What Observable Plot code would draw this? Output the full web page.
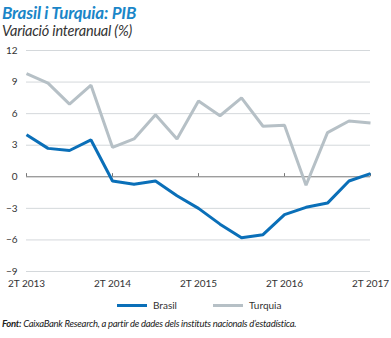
<!DOCTYPE html>
<html><head><meta charset="utf-8">
<script src="https://cdn.jsdelivr.net/npm/d3@7"></script>
<script src="https://cdn.jsdelivr.net/npm/@observablehq/plot@0.6"></script>
<style>
body{margin:0;background:#fff;width:391px;height:338px;overflow:hidden;font-family:Lato,"Open Sans",sans-serif;position:relative}
#title{position:absolute;left:2px;top:4px;font-size:17px;line-height:17px;font-weight:bold;font-style:italic;color:#1a86c8;white-space:nowrap;letter-spacing:-0.2px}
#sub{position:absolute;left:2px;top:23px;font-size:14.5px;line-height:15px;font-style:italic;color:#333;white-space:nowrap;letter-spacing:-0.2px}
#chart{position:absolute;left:0;top:40px}
#legend{position:absolute;left:0;top:299px;width:391px;height:14px;font-size:10px;color:#333}
.li{position:absolute;top:0;display:flex;align-items:center;height:12px}
.sw{width:30px;height:3px;margin-right:6px}
#src{position:absolute;left:2px;top:318px;font-size:9.5px;line-height:11px;font-style:italic;color:#222;white-space:nowrap;letter-spacing:-0.28px}
</style></head><body>
<div id="title">Brasil i Turquia: PIB</div>
<div id="sub">Variació interanual (%)</div>
<div id="chart"></div>
<div id="legend">
<div class="li" style="left:117px"><div class="sw" style="background:#0a6fb8"></div>Brasil</div>
<div class="li" style="left:213px"><div class="sw" style="background:#b6c0c6"></div>Turquia</div>
</div>
<div id="src"><b>Font:</b> CaixaBank Research, a partir de dades dels instituts nacionals d’estadística.</div>
<script>
const quarters = ["2T 2013","3T 2013","4T 2013","1T 2014","2T 2014","3T 2014","4T 2014","1T 2015","2T 2015","3T 2015","4T 2015","1T 2016","2T 2016","3T 2016","4T 2016","1T 2017","2T 2017"];
const brasil = [4.0,2.7,2.5,3.5,-0.4,-0.7,-0.4,-1.8,-3.0,-4.5,-5.8,-5.5,-3.6,-2.9,-2.5,-0.4,0.3];
const turquia = [9.8,8.9,6.9,8.7,2.8,3.6,5.9,3.6,7.2,5.8,7.5,4.8,4.9,-0.8,4.2,5.3,5.1];
const yTicks = [-9,-6,-3,0,3,6,9,12];
const xTickLabels = ["2T 2013","2T 2014","2T 2015","2T 2016","2T 2017"];

const colors = {Brasil:"#0a6fb8", Turquia:"#b6c0c6"};
const data = [
  ...quarters.map((q,i)=>({i, q, v: turquia[i], s:"Turquia"})),
  ...quarters.map((q,i)=>({i, q, v: brasil[i], s:"Brasil"}))
];
const xTicks = xTickLabels.map(l => quarters.indexOf(l));

const chart = Plot.plot({
  width: 391, height: 252,
  marginLeft: 26, marginRight: 21, marginTop: 10, marginBottom: 21,
  style: {fontFamily: "Lato, sans-serif", fontSize: "10px", color: "#333"},
  x: {type: "linear", domain: [0, quarters.length - 1], ticks: xTicks, tickFormat: i => quarters[i], tickSize: 0, tickPadding: 8, label: null},
  y: {domain: [-9, 12], ticks: yTicks, tickSize: 0, tickPadding: 9, label: null},
  marks: [
    Plot.ruleY(yTicks.filter(d => d !== 0), {stroke: "#d4d8db", strokeWidth: 1}),
    Plot.ruleY([0], {stroke: "#777", strokeWidth: 1}),
    Plot.ruleX(xTicks, {x: d => d, y1: 0, y2: 0.3, stroke: "#777", strokeWidth: 1}),
    Plot.line(data, {x: "i", y: "v", z: "s", stroke: d => colors[d.s], strokeWidth: 3, strokeLinejoin: "miter", strokeLinecap: "butt"})
  ]
});
document.getElementById("chart").appendChild(chart);
</script>
</body></html>
